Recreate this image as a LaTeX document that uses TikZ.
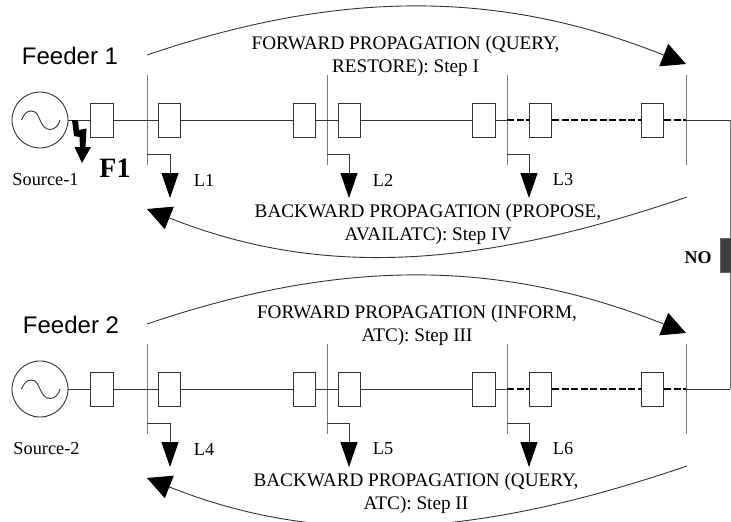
\documentclass[tikz,border=0pt]{standalone}
\usepackage{fontspec}
\setmainfont{Liberation Serif}
\setsansfont{Liberation Sans}
\usetikzlibrary{arrows.meta,positioning}
\definecolor{wire}{gray}{0.2}
\tikzset{
  breaker/.style={draw=wire,fill=white,minimum width=22.5pt,minimum height=34pt,inner sep=0pt},
  bus/.style={draw=wire,inner sep=0pt,minimum width=0pt,minimum height=90pt},
  source/.style={draw=wire,circle,minimum size=56pt,inner sep=0pt},
  txt/.style={font=\fontsize{19.2}{22.8}\selectfont,align=center,inner sep=0pt},
  tag/.style={font=\fontsize{18.3}{22}\selectfont,inner sep=0pt},
  title/.style={font=\sffamily\fontsize{24}{28}\selectfont,inner sep=0pt},
  load/.style={draw=wire,-{Triangle[length=25pt,width=17pt,color=black]}},
  flow/.style={draw=wire,-{Triangle[length=24pt,width=24pt,color=black]}},
}
\begin{document}
\begin{tikzpicture}[x=1pt,y=-1pt,line width=0.9pt]
    \useasboundingbox (0,0) rectangle (731,522);

    % feeder 1
    \node[title] (fd1) at (70,56) {Feeder 1};
    \node[source] (s1) at (40,120) {};
    \node[breaker] (a1) at (102,120) {};
    \node[bus,right of=a1,node distance=45pt] (b1) {};
    \node[breaker,right of=b1,node distance=22.5pt] (a2) {};
    \node[breaker,right of=a2,node distance=135pt] (a3) {};
    \node[bus,right of=a3,node distance=22.5pt] (b2) {};
    \node[breaker,right of=b2,node distance=22.5pt] (a4) {};
    \node[breaker,right of=a4,node distance=134.5pt] (a5) {};
    \node[bus,right of=a5,node distance=23pt] (b3) {};
    \node[breaker,right of=b3,node distance=33.5pt] (a6) {};
    \node[breaker,right of=a6,node distance=112pt] (a7) {};
    \node[bus,right of=a7,node distance=33.5pt] (b4) {};
    \node[tag] (src1) at (45.5,180) {Source-1};
    \node[font=\bfseries\fontsize{28}{30}\selectfont,inner sep=0pt] (f1) at (115,168) {F1};
    \node[tag] (l1) at (204,180) {L1};
    \node[tag] (l2) at (383,180) {L2};
    \node[tag] (l3) at (563,180) {L3};
    \node[txt] (fw1) at (405.5,56.5) {FORWARD PROPAGATION (QUERY,\\RESTORE): Step I};
    \node[txt] (bw1) at (428,224.5) {BACKWARD PROPAGATION (PROPOSE,\\AVAILATC): Step IV};

    % feeder 2
    \node[title] (fd2) at (71,325) {Feeder 2};
    \node[source] (s2) at (40,389) {};
    \node[breaker] (c1) at (102,389) {};
    \node[bus,right of=c1,node distance=45pt] (d1) {};
    \node[breaker,right of=d1,node distance=22.5pt] (c2) {};
    \node[breaker,right of=c2,node distance=135pt] (c3) {};
    \node[bus,right of=c3,node distance=22.5pt] (d2) {};
    \node[breaker,right of=d2,node distance=22.5pt] (c4) {};
    \node[breaker,right of=c4,node distance=134.5pt] (c5) {};
    \node[bus,right of=c5,node distance=23pt] (d3) {};
    \node[breaker,right of=d3,node distance=33.5pt] (c6) {};
    \node[breaker,right of=c6,node distance=112pt] (c7) {};
    \node[bus,right of=c7,node distance=33.5pt] (d4) {};
    \node[tag] (src2) at (46.5,449) {Source-2};
    \node[tag] (l4) at (204,449) {L4};
    \node[tag] (l5) at (383,449) {L5};
    \node[tag] (l6) at (563,449) {L6};
    \node[txt] (fw2) at (417,325) {FORWARD PROPAGATION (INFORM,\\ATC): Step III};
    \node[txt] (bw2) at (416,493.5) {BACKWARD PROPAGATION (QUERY,\\ATC): Step II};

    % points the connectors need
    \coordinate (e1) at (730,120);
    \coordinate (e2) at (730,389);
    \coordinate (t1) at (147,154);
    \coordinate (t2) at (327,154);
    \coordinate (t3) at (507,154);
    \coordinate (t4) at (147,423);
    \coordinate (t5) at (327,423);
    \coordinate (t6) at (507,423);
    \coordinate (p1) at (170,198);
    \coordinate (p2) at (349,198);
    \coordinate (p3) at (529,198);
    \coordinate (p4) at (170,467);
    \coordinate (p5) at (349,467);
    \coordinate (p6) at (529,467);

    % lines
    \draw[draw=wire]
    (s1) -- (a1) (a1) -- (b1) (b1) -- (a2) (a2) -- (a3) (a3) -- (b2) (b2) -- (a4) (a4) -- (a5) (a5) -- (b3)
    (s2) -- (c1) (c1) -- (d1) (d1) -- (c2) (c2) -- (c3) (c3) -- (d2) (d2) -- (c4) (c4) -- (c5) (c5) -- (d3);
    \draw[draw=black,line width=1.1pt,dash pattern=on 7pt off 2.5pt]
    (b3) -- (a6) (a6) -- (a7) (a7) -- (b4)
    (d3) -- (c6) (c6) -- (c7) (c7) -- (d4);
    \draw[draw=wire] (b4) -- (e1);
    \draw[draw=wire] (d4) -- (e2);
    \draw[draw=black!55] (e1) -- (e2);

    % loads
    \draw[load] (t1) -| (p1);
    \draw[load] (t2) -| (p2);
    \draw[load] (t3) -| (p3);
    \draw[load] (t4) -| (p4);
    \draw[load] (t5) -| (p5);
    \draw[load] (t6) -| (p6);

    % propagation arcs
    \coordinate (u1) at (147,55);
    \coordinate (u2) at (686,64);
    \coordinate (v1) at (687,197);
    \coordinate (v2) at (147,209);
    \coordinate (u3) at (147,324);
    \coordinate (u4) at (686,333);
    \coordinate (v3) at (687,466);
    \coordinate (v4) at (147,478);
    \draw[flow] (u1) .. controls (347,-13) and (506,-8) .. (u2);
    \draw[flow] (v1) .. controls (487,265) and (327,281) .. (v2);
    \draw[flow] (u3) .. controls (347,256) and (506,261) .. (u4);
    \draw[flow] (v3) .. controls (487,534) and (327,550) .. (v4);

    % normally open point
    \node[draw=black!60,fill=black!75,minimum width=11pt,minimum height=34pt,inner sep=0pt] (no) at (725.5,255) {};
    \node[font=\bfseries\fontsize{18}{20}\selectfont,inner sep=0pt] (nol) at (698,258) {NO};

    % sine marks and the fault
    \draw[draw=wire,shift={(s1.center)}] (-18.5,0) .. controls (-16,-6) and (-13,-9) .. (-9,-9) .. controls (-3,-9) and (-2,-4) .. (0,0) .. controls (2,5) and (5,9.5) .. (10,9.5) .. controls (15,9.5) and (19,5) .. (20,0);
    \draw[draw=wire,shift={(s2.center)}] (-18.5,0) .. controls (-16,-6) and (-13,-9) .. (-9,-9) .. controls (-3,-9) and (-2,-4) .. (0,0) .. controls (2,5) and (5,9.5) .. (10,9.5) .. controls (15,9.5) and (19,5) .. (20,0);
    \fill (72,120) -- (78,120) -- (79,130) -- (86.5,128.5) -- (85.5,147) -- (91,147) -- (82,163) -- (74.5,147) -- (80,147) -- (79.5,137) -- (74,136) -- cycle;
  \end{tikzpicture}
\end{document}
